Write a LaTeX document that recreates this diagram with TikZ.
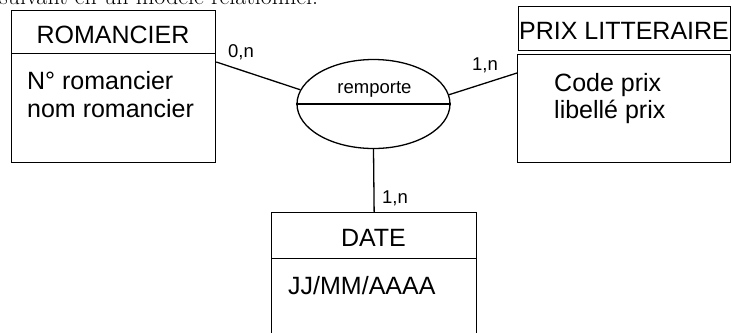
\documentclass[tikz,border=0pt]{standalone}
\usepackage{fontspec}
\setmainfont{Liberation Sans}
\newfontfamily\serifcut{Latin Modern Roman}
\usetikzlibrary{shapes.geometric}
\tikzset{
  box/.style={draw, rectangle, line width=1.3bp, inner sep=0pt, anchor=north west},
  big/.style={font=\fontsize{25bp}{30bp}\selectfont, inner sep=0pt},
  small/.style={font=\fontsize{18.5bp}{22bp}\selectfont, inner sep=0pt},
  link/.style={line width=1.3bp},
}
\begin{document}
\begin{tikzpicture}[x=1bp, y=-1bp]
\useasboundingbox (0,0) rectangle (731,332);
% cropped caption line at the top
\node[inner sep=0pt, anchor=base west, font=\serifcut\fontsize{24bp}{28bp}\selectfont] (cap) at (-1,4.5) {suivant en un modèle relationnel.};
% ROMANCIER
\node[box, minimum width=204bp, minimum height=43bp] (romT) at (11,10) {};
\node[box, minimum width=204bp, minimum height=109bp] (romB) at (11,53) {};
\node[big, anchor=base] (romTt) at (113,43) {ROMANCIER};
\node[big, anchor=base west] (romA1) at (27,89) {N° romancier};
\node[big, anchor=base west] (romA2) at (27,117) {nom romancier};
% PRIX LITTERAIRE
\node[box, minimum width=212bp, minimum height=44bp] (prixT) at (518,6) {};
\node[box, minimum width=213bp, minimum height=108bp] (prixB) at (517,54) {};
\node[big, anchor=base] (prixTt) at (624,39) {PRIX LITTERAIRE};
\node[big, anchor=base west] (prixA1) at (554,91) {Code prix};
\node[big, anchor=base west] (prixA2) at (554,118) {libellé prix};
% DATE
\node[box, minimum width=205bp, minimum height=46bp] (dateT) at (271,212) {};
\node[box, minimum width=205bp, minimum height=100bp] (dateB) at (271,258) {};
\node[big, anchor=base] (dateTt) at (373.5,246) {DATE};
\node[big, anchor=base west] (dateA1) at (288,294) {JJ/MM/AAAA};
% association
\node[draw, ellipse, line width=1.3bp, inner sep=0pt, minimum width=153bp, minimum height=89bp] (rel) at (373.5,104) {};
\draw[link] (rel.west) -- (rel.east);
\node[small, anchor=base] (relt) at (374.5,93.3) {remporte};
% connectors
\draw[link] ([yshift=-9bp]romB.north east) -- (rel.169);
\draw[link] (rel.7) -- ([yshift=-19bp]prixB.north west);
\draw[link] (rel.south) -- (dateT.north);
% cardinalities
\node[small, anchor=base west] (c1) at (228,57) {0,n};
\node[small, anchor=base west] (c2) at (472,70) {1,n};
\node[small, anchor=base west] (c3) at (382,203) {1,n};
\end{tikzpicture}
\end{document}
